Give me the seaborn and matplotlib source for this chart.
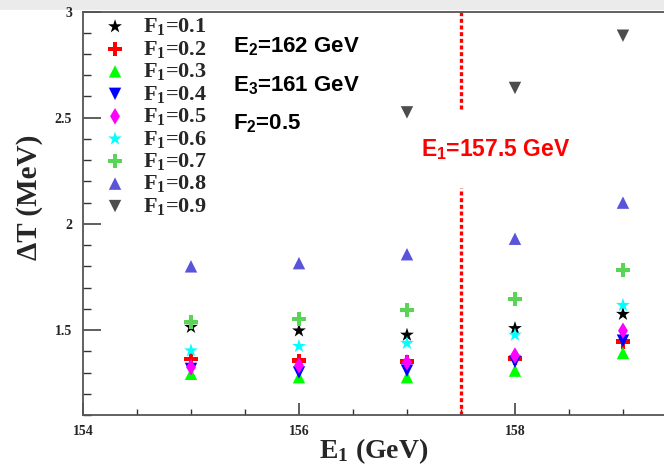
import numpy as np
import pandas as pd
import matplotlib
matplotlib.use("Agg")
import matplotlib.pyplot as plt
import matplotlib.ticker as mticker
import seaborn as sns

# ---------------- data ----------------
E1 = [155, 156, 157, 158, 159]
F1_labels = ["0.1", "0.2", "0.3", "0.4", "0.5", "0.6", "0.7", "0.8", "0.9"]
dT_01 = [1.514, 1.497, 1.477, 1.508, 1.575]
dT_02 = [1.364, 1.356, 1.351, 1.367, 1.445]
dT_03 = [1.294, 1.278, 1.278, 1.309, 1.392]
dT_04 = [1.317, 1.300, 1.309, 1.351, 1.450]
dT_05 = [1.325, 1.333, 1.348, 1.380, 1.497]
dT_06 = [1.403, 1.424, 1.438, 1.477, 1.617]
dT_07 = [1.538, 1.552, 1.594, 1.646, 1.783]
dT_08 = [1.800, 1.815, 1.857, 1.930, 2.100]
dT_09 = [np.nan, np.nan, 2.525, 2.640, 2.886]
series = [dT_01, dT_02, dT_03, dT_04, dT_05, dT_06, dT_07, dT_08, dT_09]
x_ticks = [154, 156, 158]
y_ticks = [1.5, 2, 2.5, 3]
E1_cut = 157.5

# ---------------- style ----------------
colors = ["#000000", "#ff0000", "#00ff00", "#0000ff", "#ff00ff",
          "#00ffff", "#59d454", "#5954d9", "#4d4d4d"]
markers = ["*", "P", "^", "v", "d", "*", "P", "^", "v"]
sizes = [110, 100, 80, 80, 70, 110, 100, 80, 80]

sns.set_theme(style="white")
plt.rcParams["font.family"] = ["Liberation Serif", "DejaVu Serif"]
plt.rcParams["font.weight"] = "bold"
plt.rcParams["mathtext.fontset"] = "custom"
plt.rcParams["mathtext.rm"] = "Liberation Serif:bold"
plt.rcParams["mathtext.it"] = "Liberation Serif:bold"
plt.rcParams["mathtext.bf"] = "Liberation Serif:bold"
plt.rcParams["mathtext.sf"] = "Liberation Sans:bold"

fig = plt.figure(figsize=(6.64, 4.66), dpi=100)
fig.patches.append(plt.Rectangle((0, 1 - 10 / 466), 1, 10 / 466, transform=fig.transFigure,
                                 facecolor="#ebebeb", edgecolor="none", zorder=-5))
ax = fig.add_axes([83 / 664, 51 / 466, 1 - 83 / 664, 403.5 / 466])

for lab, vals, c, m, s in zip(F1_labels, series, colors, markers, sizes):
    df = pd.DataFrame({"E1": E1, "dT": vals})
    sns.scatterplot(data=df, x="E1", y="dT", ax=ax, color=c, marker=m, s=s,
                    edgecolor="none", linewidth=0, label=f"F$_1$={lab}", zorder=3)

# vertical cut line
ax.vlines(E1_cut, 2.54, 3.0, colors="#ff0000", linestyles=(0, (1.2, 0.8)), lw=2.4, zorder=2)
ax.vlines(E1_cut, 1.10, 2.17, colors="#ff0000", linestyles=(0, (1.2, 0.8)), lw=2.4, zorder=2)

sans = ["Liberation Sans", "DejaVu Sans"]
ax.text(157.13, 2.317, r"E$_{\mathsf{1}}$=157.5 GeV", color="#ff0000", fontsize=16.5,
        family=sans, weight="bold", va="baseline", ha="left")
ax.text(155.39, 2.81, r"E$_{\mathsf{2}}$=162 GeV", color="black", fontsize=16,
        family=sans, weight="bold", va="baseline", ha="left")
ax.text(155.39, 2.627, r"E$_{\mathsf{3}}$=161 GeV", color="black", fontsize=16,
        family=sans, weight="bold", va="baseline", ha="left")
ax.text(155.39, 2.448, r"F$_{\mathsf{2}}$=0.5", color="black", fontsize=16,
        family=sans, weight="bold", va="baseline", ha="left")

ax.set_xlim(154, 159.38)
ax.set_ylim(1.10, 3.0)
ax.xaxis.set_major_locator(mticker.FixedLocator(x_ticks))
ax.xaxis.set_minor_locator(mticker.MultipleLocator(0.5))
ax.yaxis.set_major_locator(mticker.FixedLocator(y_ticks))
ax.yaxis.set_minor_locator(mticker.MultipleLocator(0.1))
ax.xaxis.set_major_formatter(mticker.FuncFormatter(lambda v, p: f"{v:g}"))
ax.yaxis.set_major_formatter(mticker.FuncFormatter(lambda v, p: f"{v:g}"))
ax.tick_params(axis="x", which="major", direction="in", length=9, width=1.1, color="#333333",
               labelsize=10, pad=7, bottom=True, top=False)
ax.tick_params(axis="x", which="minor", direction="in", length=4.5, width=1.0, color="#333333",
               bottom=True, top=False)
ax.tick_params(axis="y", which="major", direction="in", length=13, width=1.1, color="#333333",
               labelsize=10, pad=8, left=True, right=False)
ax.tick_params(axis="y", which="minor", direction="in", length=6, width=1.0, color="#333333",
               left=True, right=False)
for t in ax.get_xticklabels() + ax.get_yticklabels():
    t.set_fontweight("bold")

for side in ["left", "bottom", "top"]:
    ax.spines[side].set_visible(True)
    ax.spines[side].set_color("#555555")
    ax.spines[side].set_linewidth(1.3)
ax.spines["right"].set_visible(False)

ax.set_xlabel(r"E$_1$ (GeV)", fontsize=20, fontweight="bold")
ax.set_ylabel(r"ΔT (MeV)", fontsize=21, fontweight="bold")
ax.xaxis.set_label_coords(0.5, -0.052)
ax.yaxis.set_label_coords(-0.068, 0.54)

leg = ax.legend(loc="upper left", bbox_to_anchor=(0.036, 0.988), frameon=False,
                fontsize=16, handlelength=1.0, handletextpad=0.75,
                labelspacing=0.065, borderpad=0.0, borderaxespad=0.0, markerscale=1.0)

fig.savefig("out.png", dpi=100)
